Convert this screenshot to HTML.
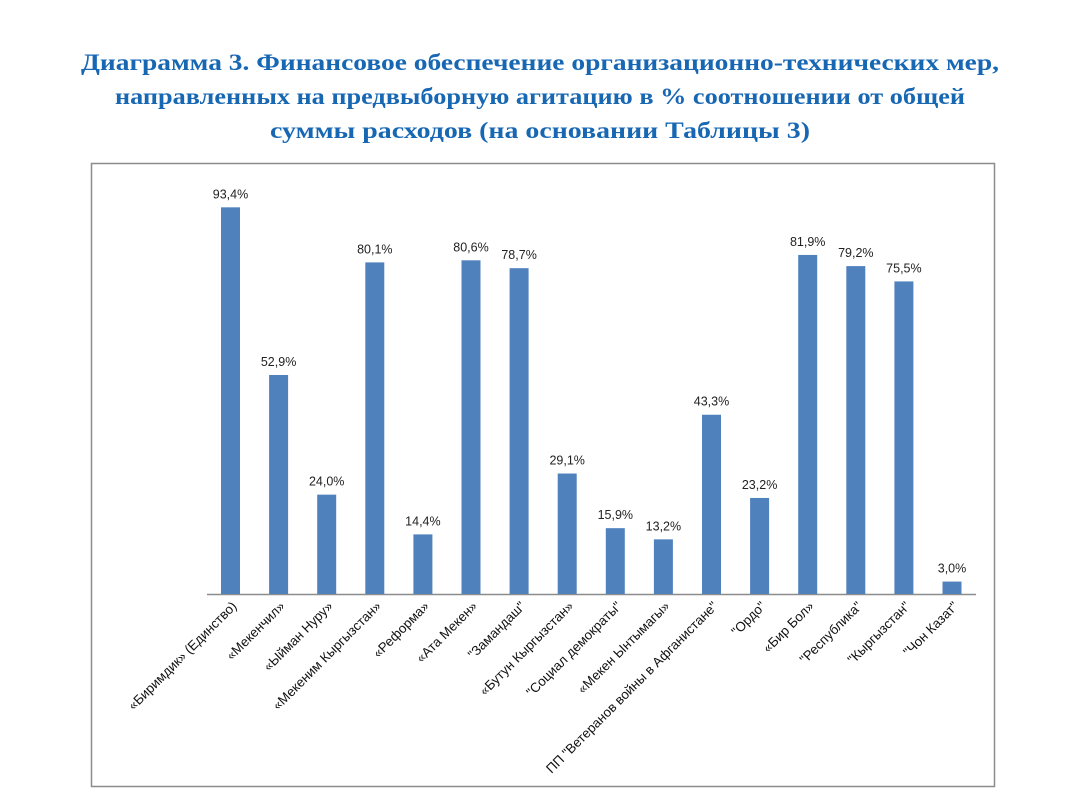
<!DOCTYPE html>
<html><head><meta charset="utf-8"><style>
html,body{margin:0;padding:0;background:#fff;}
svg{display:block;}
</style></head><body>
<svg id="s" width="1081" height="803" viewBox="0 0 1081 803" xmlns="http://www.w3.org/2000/svg">
<g font-family="Liberation Serif, serif" font-weight="bold" font-size="23.5" fill="#1767b3" text-anchor="middle">
<text x="540" y="70" textLength="918" lengthAdjust="spacingAndGlyphs">Диаграмма 3. Финансовое обеспечение организационно-технических мер,</text>
<text x="540" y="104" textLength="850" lengthAdjust="spacingAndGlyphs">направленных на предвыборную агитацию в % соотношении от общей</text>
<text x="540" y="138" textLength="540" lengthAdjust="spacingAndGlyphs">суммы расходов (на основании Таблицы 3)</text>
</g>
<rect x="91.5" y="163.5" width="903" height="623" fill="#fff" stroke="#8c8c8c" stroke-width="1.5"/>
<line x1="207" y1="594.5" x2="976" y2="594.5" stroke="#8c8c8c" stroke-width="1.5"/>
<g id="bars" fill="#4f81bd"></g>
<g id="vals" font-family="Liberation Sans, sans-serif" font-size="12.5" fill="#222" text-anchor="middle"></g>
<g id="labs" font-family="Liberation Sans, sans-serif" font-size="13.3" fill="#111" text-anchor="end"></g>
</svg>
<script>
(function(){
var names=["«Биримдик» (Единство)","«Мекенчил»","«Ыйман Нуру»","«Мекеним Кыргызстан»","«Реформа»","«Ата Мекен»","\"Замандаш\"","«Бутун Кыргызстан»","\"Социал демократы\"","«Мекен Ынтымагы»","ПП \"Ветеранов войны в Афганистане\"","\"Ордо\"","«Бир Бол»","\"Республика\"","\"Кыргызстан\"","\"Чон Казат\""];
var vals=[93.4,52.9,24.0,80.1,14.4,80.6,78.7,29.1,15.9,13.2,43.3,23.2,81.9,79.2,75.5,3.0];
var ns="http://www.w3.org/2000/svg";
var B=document.getElementById("bars"),V=document.getElementById("vals"),L=document.getElementById("labs");
for(var i=0;i<16;i++){
 var cx=230.5+i*48.1, h=vals[i]*4.14, yt=594-h;
 var r=document.createElementNS(ns,"rect");
 r.setAttribute("x",cx-9.5);r.setAttribute("y",yt);r.setAttribute("width",19);r.setAttribute("height",h);B.appendChild(r);
 var t=document.createElementNS(ns,"text");
 t.setAttribute("x",cx);t.setAttribute("y",yt-9);t.textContent=vals[i].toFixed(1).replace(".",",")+"%";V.appendChild(t);
 var l=document.createElementNS(ns,"text");
 l.setAttribute("transform","translate("+(cx+7)+",607) rotate(-45)");l.textContent=names[i];L.appendChild(l);
}
})();
</script>
</body></html>
